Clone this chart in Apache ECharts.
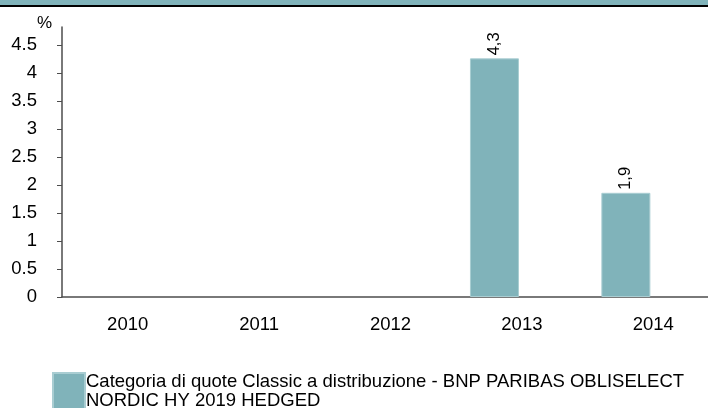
<!DOCTYPE html>
<html>
<head>
<meta charset="utf-8">
<script src="https://cdn.jsdelivr.net/npm/echarts@6/dist/echarts.min.js"></script>
<style>
html,body{margin:0;padding:0;background:#fff;}
#chart{width:708px;height:408px;}
</style>
</head>
<body>
<div id="chart"></div>
<script>
const categories = ['2010', '2011', '2012', '2013', '2014'];
const classicValues = [null, null, null, 4.26, 1.86];
const emptySlot = [null, null, null, null, null];
const yTickValues = [0, 0.5, 1, 1.5, 2, 2.5, 3, 3.5, 4, 4.5];
const seriesName = 'Categoria di quote Classic a distribuzione - BNP PARIBAS OBLISELECT\nNORDIC HY 2019 HEDGED';

const FONT = '"Liberation Sans", Arial, sans-serif';
const TEAL = '#80b3ba';

const chart = echarts.init(document.getElementById('chart'), null, {renderer: 'canvas'});
chart.setOption({
  animation: false,
  backgroundColor: '#ffffff',
  textStyle: {fontFamily: FONT, color: '#000'},
  graphic: [
    {type: 'rect', shape: {x: 0, y: 0, width: 708, height: 5}, style: {fill: TEAL}},
    {type: 'rect', shape: {x: 0, y: 5, width: 708, height: 2}, style: {fill: '#000'}},
    {type: 'text', left: 37, top: 15, style: {text: '%', font: '17px ' + FONT, fill: '#000'}}
  ],
  grid: {left: 62, top: 27, width: 657, height: 270, containLabel: false, outerBoundsMode: 'none'},
  legend: {
    left: 52, top: 372,
    padding: 0,
    itemWidth: 32, itemHeight: 36,
    itemGap: 0,
    icon: 'rect',
    data: [seriesName],
    textStyle: {fontFamily: FONT, fontSize: 18.5, color: '#000', lineHeight: 19, padding: [0, 0, 0, -4]}
  },
  xAxis: {
    type: 'category',
    data: categories,
    axisLine: {lineStyle: {color: '#4d4d4d', width: 1.5}},
    axisTick: {show: false},
    axisLabel: {fontFamily: FONT, fontSize: 18.5, color: '#000', margin: 18}
  },
  yAxis: {
    type: 'value',
    min: 0, max: 4.82, interval: 0.5,
    splitLine: {show: false},
    axisLine: {show: true, lineStyle: {color: '#4d4d4d', width: 1.5}},
    axisTick: {show: true, length: 5, customValues: yTickValues, lineStyle: {color: '#4d4d4d'}},
    axisLabel: {fontFamily: FONT, fontSize: 18.5, color: '#000', margin: 25, customValues: yTickValues,
      formatter: v => String(v)}
  },
  series: [
    {
      name: seriesName,
      type: 'bar',
      data: classicValues,
      barWidth: 49,
      barGap: '12%',
      itemStyle: {color: TEAL, borderColor: '#a9cdd2', borderWidth: 1},
      label: {
        show: true, position: 'top', rotate: 90, distance: 3,
        align: 'left', verticalAlign: 'middle',
        fontFamily: FONT, fontSize: 16.5, color: '#000',
        formatter: p => p.value == null ? '' : p.value.toFixed(1).replace('.', ',')
      }
    },
    {
      name: 'empty',
      type: 'bar',
      data: emptySlot,
      barWidth: 49,
      itemStyle: {color: TEAL}
    }
  ]
});
</script>
</body>
</html>
